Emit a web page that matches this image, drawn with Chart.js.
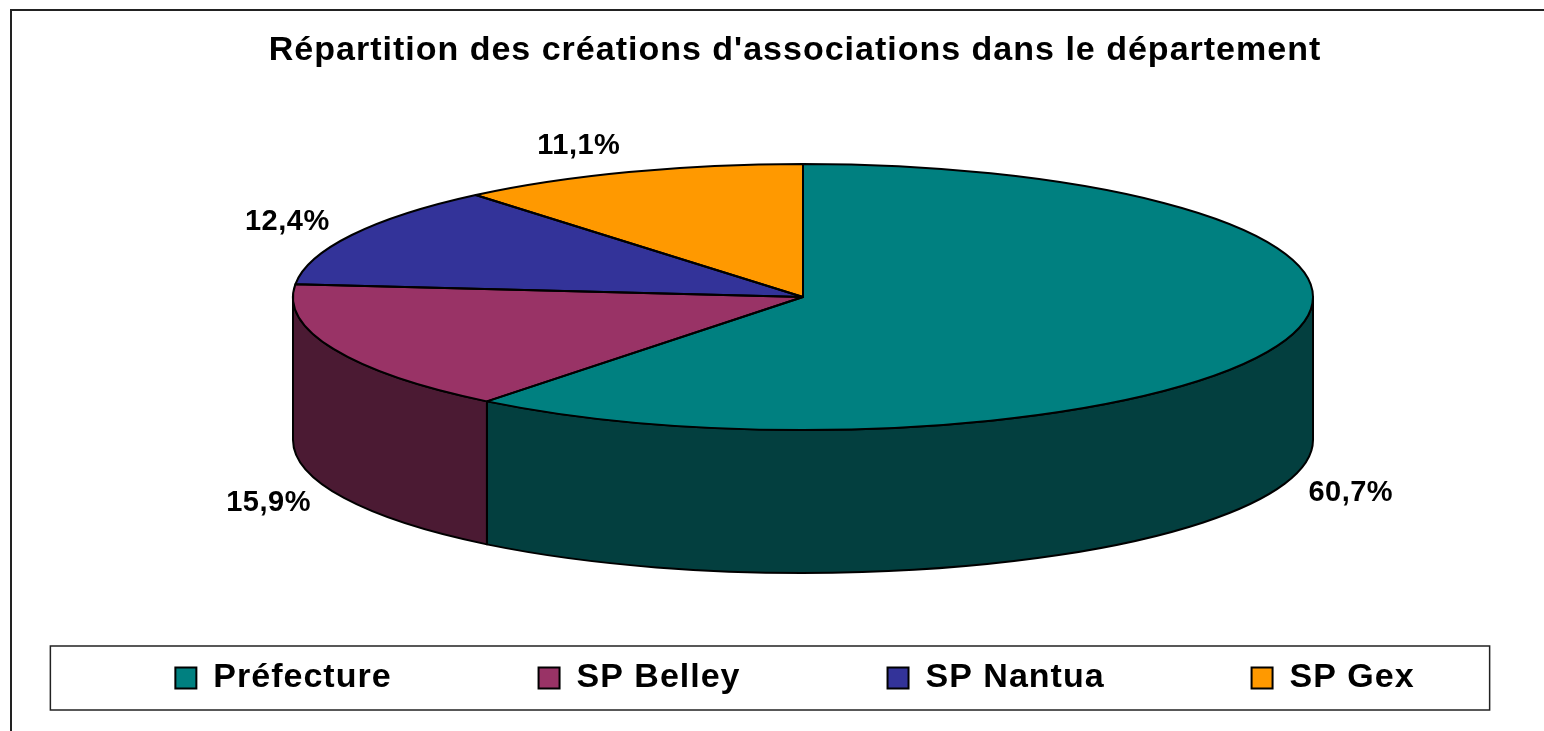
<!DOCTYPE html>
<html>
<head>
<meta charset="utf-8">
<script src="https://cdn.jsdelivr.net/npm/chart.js@4.4.0/dist/chart.umd.min.js"></script>
<style>
html, body { margin: 0; padding: 0; background: #ffffff; }
canvas { display: block; }
</style>
</head>
<body>
<canvas id="c" width="1544" height="731"></canvas>
<script>
// ---- data ----
const categories = ['Préfecture', 'SP Belley', 'SP Nantua', 'SP Gex'];
const shares = [60.7, 15.9, 12.4, 11.1];
const chartTitle = "Répartition des créations d'associations dans le département";

// ---- styles ----
const topColors = ['#008080', '#993366', '#333399', '#FF9900'];
const sideColors = ['#033f3f', '#4b1a33', '#1a1a4d', '#804d00'];

const fmt = v => v.toFixed(1).replace('.', ',') + '%';

Chart.defaults.font.family = "'Liberation Sans', Arial, sans-serif";

const spacing = {
  id: 'spacing',
  beforeLayout(chart) { chart.ctx.letterSpacing = '1px'; },
  beforeDraw(chart) { chart.ctx.letterSpacing = '1px'; }
};

const frame = {
  id: 'frame',
  beforeDraw(chart) {
    const c = chart.ctx;
    c.save();
    c.strokeStyle = '#222';
    c.lineWidth = 2;
    c.beginPath();
    c.moveTo(11, chart.height + 5);
    c.lineTo(11, 10);
    c.lineTo(chart.width + 5, 10);
    c.stroke();
    c.restore();
  }
};

const pie3d = {
  id: 'pie3d',
  beforeDatasetsDraw(chart, args, o) {
    const ctx = chart.ctx;
    const arcs = chart.getDatasetMeta(0).data;
    const { cx, cy, rx, ry, depth } = o;
    // visible side walls (front half of the disc)
    ctx.save();
    ctx.lineWidth = o.lineWidth;
    ctx.strokeStyle = o.lineColor;
    ctx.lineJoin = 'round';
    arcs.forEach((arc, i) => {
      const a = Math.max(arc.startAngle, 0);
      const b = Math.min(arc.endAngle, Math.PI);
      if (b <= a) return;
      ctx.beginPath();
      ctx.ellipse(cx, cy, rx, ry, 0, a, b, false);
      ctx.lineTo(cx + rx * Math.cos(b), cy + depth + ry * Math.sin(b));
      ctx.ellipse(cx, cy + depth, rx, ry, 0, b, a, true);
      ctx.closePath();
      ctx.fillStyle = o.sideColors[i];
      ctx.fill();
      ctx.stroke();
    });
    ctx.restore();
    // project the library's circular slices onto the tilted ellipse
    const R = arcs[0].outerRadius, ox = arcs[0].x, oy = arcs[0].y;
    ctx.save();
    ctx.translate(cx, cy);
    ctx.scale(rx / R, ry / R);
    ctx.translate(-ox, -oy);
  },
  afterDatasetsDraw(chart, args, o) {
    const ctx = chart.ctx;
    ctx.restore();
    const arcs = chart.getDatasetMeta(0).data;
    const values = chart.data.datasets[0].data;
    const { cx, cy, rx, ry, depth } = o;
    ctx.save();
    ctx.lineWidth = o.lineWidth;
    ctx.strokeStyle = o.lineColor;
    ctx.lineJoin = 'round';
    arcs.forEach(arc => {
      const s = arc.startAngle, e = arc.endAngle;
      ctx.beginPath();
      ctx.moveTo(cx, cy);
      ctx.lineTo(cx + rx * Math.cos(s), cy + ry * Math.sin(s));
      ctx.ellipse(cx, cy, rx, ry, 0, s, e, false);
      ctx.closePath();
      ctx.stroke();
    });
    // percentage labels
    ctx.fillStyle = '#000';
    ctx.font = 'bold ' + o.labelSize + "px 'Liberation Sans', Arial, sans-serif";
    ctx.letterSpacing = '0.5px';
    ctx.textBaseline = 'middle';
    arcs.forEach((arc, i) => {
      const m = (arc.startAngle + arc.endAngle) / 2;
      const c = Math.cos(m), sn = Math.sin(m);
      const x = cx + (rx + o.labelDx) * c;
      const y = cy + (ry + o.labelDy) * sn + (sn > 0 ? depth : 0);
      ctx.textAlign = c > 0.2 ? 'left' : (c < -0.2 ? 'right' : 'center');
      ctx.fillText(fmt(values[i]), x, y);
    });
    ctx.restore();
  }
};

const legendFrame = {
  id: 'legendFrame',
  afterDraw(chart, args, o) {
    const hb = chart.legend.legendHitBoxes;
    if (!hb || !hb.length) return;
    const last = hb[hb.length - 1];
    const left = hb[0].left - o.padLeft;
    const right = last.left + last.width + o.padRight;
    const top = hb[0].top - o.padY;
    const bottom = hb[0].top + hb[0].height + o.padY;
    const c = chart.ctx;
    c.save();
    c.strokeStyle = '#222';
    c.lineWidth = 1.5;
    c.strokeRect(left, top, right - left, bottom - top);
    c.restore();
  }
};

new Chart(document.getElementById('c'), {
  type: 'pie',
  data: {
    labels: categories,
    datasets: [{
      data: shares,
      backgroundColor: topColors,
      borderWidth: 0,
      clip: false
    }]
  },
  options: {
    responsive: false,
    animation: false,
    events: [],
    layout: { padding: { left: 26, right: -20, top: 10, bottom: 26 } },
    plugins: {
      title: {
        display: true,
        text: chartTitle,
        color: '#000',
        font: { size: 34, weight: 'bold' },
        padding: { top: 20, bottom: 10 }
      },
      legend: {
        display: true,
        position: 'bottom',
        labels: {
          boxWidth: 21,
          boxHeight: 21,
          padding: 147,
          color: '#000',
          font: { size: 34, weight: 'bold' },
          generateLabels(chart) {
            return chart.data.labels.map((t, i) => ({
              text: t,
              fillStyle: topColors[i],
              strokeStyle: '#000',
              lineWidth: 2,
              hidden: false,
              index: i,
              fontColor: '#000'
            }));
          }
        }
      },
      tooltip: { enabled: false },
      pie3d: {
        cx: 803, cy: 297, rx: 510, ry: 133, depth: 143,
        lineWidth: 2, lineColor: '#000',
        sideColors: sideColors,
        labelSize: 29, labelDx: 25, labelDy: 28
      },
      legendFrame: { padLeft: 125, padRight: 75, padY: 15 }
    }
  },
  plugins: [spacing, frame, pie3d, legendFrame]
});
</script>
</body>
</html>
